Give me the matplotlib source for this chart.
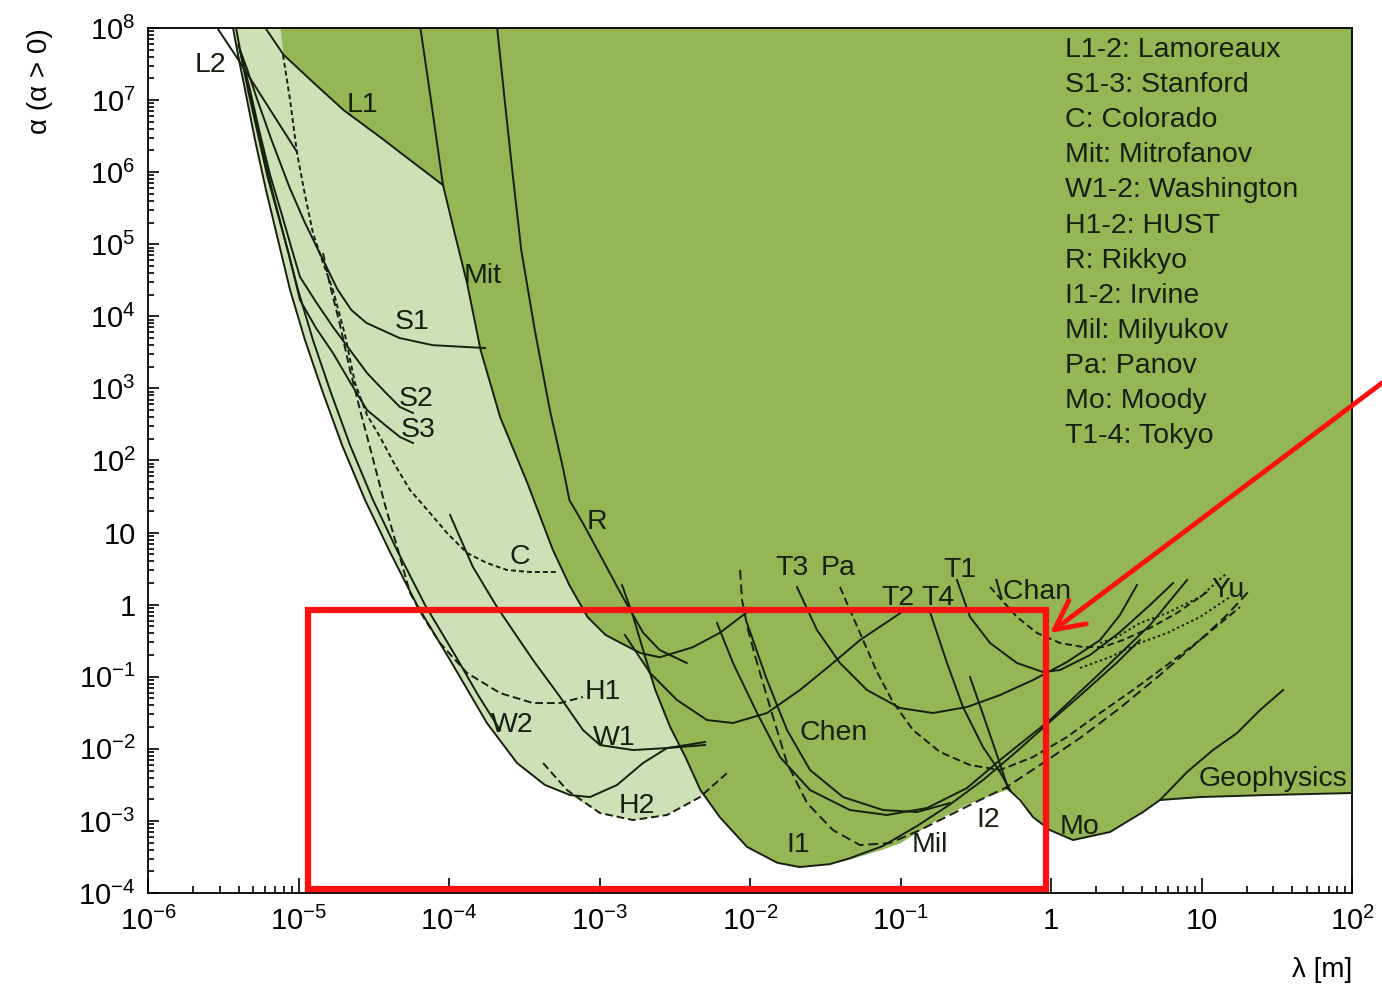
import numpy as np
import matplotlib.pyplot as plt
from matplotlib.patches import Rectangle, FancyArrowPatch
from matplotlib.ticker import FixedLocator, NullFormatter, FuncFormatter

plt.rcParams['font.family'] = ['Liberation Sans', 'DejaVu Sans']
plt.rcParams['mathtext.fontset'] = 'custom'
plt.rcParams['mathtext.rm'] = 'Liberation Sans'
plt.rcParams['mathtext.it'] = 'Liberation Sans:italic'
plt.rcParams['mathtext.bf'] = 'Liberation Sans:bold'

# every curve is stored as log10(lambda / m), log10(alpha)

excl_x = [-5.12, -5.10, -4.90, -4.70, -4.46, -4.26, -4.04, -3.96, -3.88, -3.79, -3.66, -3.48, -3.31,
          -3.20, -3.08, -2.96, -2.86, -2.73, -2.63, -2.53, -2.43, -2.33, -2.20, -2.02, -1.82, -1.67,
          -1.47, -1.34, -1.12, -1.00, -0.78, -0.56, -0.39, -0.29, -0.21, -0.12, -0.01, 0.15, 0.39,
          0.61, 0.72, 0.99, 1.43, 2.00, 2.00]
excl_y = [8.00, 7.63, 7.24, 6.86, 6.49, 6.17, 5.82, 5.13, 4.46, 3.53, 2.60, 1.69, 0.76,
          0.27, -0.17, -0.42, -0.53, -0.67, -1.18, -1.70, -2.11, -2.57, -2.95, -3.36, -3.58, -3.64,
          -3.60, -3.54, -3.40, -3.31, -3.02, -2.78, -2.64, -2.57, -2.67, -2.95, -3.13, -3.27, -3.15,
          -2.88, -2.71, -2.67, -2.64, -2.61, 8.00]

# region excluded before (light green), left / lower edge
prev_x = [-5.435, -5.402, -5.355, -5.289, -5.216, -5.136, -5.056, -4.957, -4.844, -4.711, -4.558,
          -4.392, -4.213, -3.993, -3.748, -3.548, -3.362, -3.196, -2.997, -2.777, -2.551, -2.332, 2.00]
prev_y = [8.00, 7.625, 7.140, 6.446, 5.752, 5.059, 4.365, 3.671, 2.978, 2.215, 1.452,
          0.730, -0.005, -0.768, -1.642, -2.197, -2.502, -2.641, -2.891, -2.988, -2.918, -2.669, 8.00]

# solid curves
L1_x = [-5.22, -5.10, -4.90, -4.70, -4.46, -4.26, -4.04]
L1_y = [8.00, 7.63, 7.24, 6.86, 6.49, 6.17, 5.82]
L2_x = [-5.54, -5.40, -5.01]
L2_y = [8.00, 7.56, 6.28]
mit_x = [-4.19, -4.12, -4.04, -3.96, -3.88, -3.79, -3.66, -3.48, -3.31, -3.20, -3.08, -2.96, -2.86,
         -2.73, -2.60, -2.38, -2.20, -2.03]
mit_y = [8.00, 7.00, 5.82, 5.13, 4.46, 3.53, 2.60, 1.69, 0.76, 0.27, -0.17, -0.42, -0.53,
         -0.67, -0.73, -0.59, -0.39, -0.12]
R_x = [-3.68, -3.63, -3.58, -3.52, -3.43, -3.33, -3.24, -3.20, -3.11, -3.04, -2.86, -2.71, -2.60, -2.42]
R_y = [8.00, 7.00, 6.03, 4.92, 3.81, 2.70, 1.87, 1.45, 1.13, 0.86, 0.16, -0.39, -0.63, -0.81]
W2_x = [-5.435, -5.402, -5.355, -5.289, -5.216, -5.136, -5.056, -4.957, -4.844, -4.711, -4.558,
        -4.392, -4.213, -3.993, -3.748, -3.548, -3.362, -3.196, -3.063, -2.884, -2.711, -2.551, -2.299]
W2_y = [8.00, 7.625, 7.140, 6.446, 5.752, 5.059, 4.365, 3.671, 2.978, 2.215, 1.452,
        0.730, -0.005, -0.768, -1.642, -2.197, -2.502, -2.641, -2.669, -2.502, -2.197, -1.989, -1.906]
B_x = [-5.415, -5.382, -5.329, -5.256, -5.176, -5.090, -5.003, -4.904, -4.791, -4.658, -4.505,
       -4.346, -4.159, -3.960, -3.807, -3.661]
B_y = [8.00, 7.625, 7.140, 6.446, 5.752, 5.059, 4.365, 3.671, 2.978, 2.215, 1.452,
       0.758, -0.005, -0.699, -1.254, -1.739]
S1_x = [-5.40, -5.34, -5.28, -5.18, -5.06, -4.96, -4.86, -4.74, -4.65, -4.55, -4.33, -4.11, -3.76]
S1_y = [7.76, 7.42, 7.04, 6.45, 5.79, 5.31, 4.88, 4.37, 4.09, 3.91, 3.70, 3.60, 3.56]
S2_x = [-5.389, -5.322, -5.262, -5.189, -5.110, -5.043, -4.990, -4.884, -4.771, -4.658, -4.545,
        -4.425, -4.326, -4.239]
S2_y = [7.695, 7.140, 6.585, 5.961, 5.406, 4.920, 4.546, 4.199, 3.852, 3.533, 3.214, 2.950, 2.742, 2.659]
S3_x = [-5.389, -5.336, -5.276, -5.209, -5.136, -5.063, -4.990, -4.884, -4.771, -4.658, -4.545,
        -4.425, -4.326, -4.239]
S3_y = [7.695, 7.140, 6.585, 5.961, 5.406, 4.851, 4.226, 3.838, 3.491, 3.089, 2.700, 2.492, 2.326, 2.242]
W1_x = [-3.993, -3.841, -3.681, -3.442, -3.262, -3.110, -2.997, -2.777, -2.551, -2.299]
W1_y = [1.244, 0.522, -0.033, -0.768, -1.281, -1.739, -1.947, -2.017, -1.989, -1.947]
I1_x = [-2.85, -2.78, -2.71, -2.63, -2.53, -2.43, -2.33, -2.20, -2.02, -1.82, -1.67, -1.47, -1.34,
        -1.12, -0.89, -0.67, -0.45, -0.23, -0.01, 0.21, 0.44, 0.59]
I1_y = [0.27, -0.14, -0.63, -1.18, -1.70, -2.11, -2.57, -2.95, -3.36, -3.58, -3.64, -3.60, -3.52,
        -3.35, -3.07, -2.77, -2.43, -2.04, -1.63, -1.23, -0.80, -0.49]
T1_x = [-0.625, -0.538, -0.405, -0.226, -0.053, 0.060, 0.259, 0.458, 0.658, 0.811]
T1_y = [0.342, -0.171, -0.532, -0.810, -0.935, -0.907, -0.699, -0.380, -0.005, 0.300]
T2_x = [-2.831, -2.664, -2.485, -2.286, -2.113, -1.887, -1.668, -1.449, -1.269, -0.970]
T2_y = [-0.421, -0.948, -1.323, -1.600, -1.642, -1.503, -1.184, -0.810, -0.491, -0.074]
T3_x = [-1.688, -1.555, -1.402, -1.223, -1.003, -0.784, -0.558, -0.339, -0.120, 0.106, 0.326, 0.458, 0.571]
T3_y = [0.245, -0.352, -0.810, -1.184, -1.434, -1.503, -1.420, -1.254, -1.046, -0.796, -0.491, -0.144, 0.272]
T4_x = [-0.804, -0.691, -0.585, -0.452, -0.339, -0.272]
T4_y = [-0.102, -0.810, -1.420, -1.975, -2.322, -2.572]
I2_x = [-0.538, -0.439, -0.359, -0.292]
I2_y = [-1.004, -1.600, -2.086, -2.502]
mo_x = [-0.292, -0.206, -0.120, -0.007, 0.146, 0.392, 0.611, 0.724, 0.904, 1.076, 1.236, 1.389, 1.542]
mo_y = [-2.544, -2.710, -2.946, -3.127, -3.265, -3.154, -2.877, -2.710, -2.322, -2.017, -1.781, -1.462, -1.184]
geo_x = [0.724, 0.990, 1.435, 2.00]
geo_y = [-2.710, -2.669, -2.641, -2.613]
chen1_x = [-2.219, -2.113, -1.953, -1.801, -1.601, -1.336, -1.090, -0.824, -0.558, -0.339, -0.007,
           0.326, 0.658, 0.904]
chen1_y = [-0.255, -0.810, -1.503, -2.114, -2.572, -2.849, -2.918, -2.821, -2.544, -2.155, -1.600,
           -0.948, -0.282, 0.342]
chen2_x = [-2.020, -1.887, -1.754, -1.601, -1.382, -1.116, -0.890, -0.671]
chen2_y = [-0.255, -1.046, -1.739, -2.294, -2.669, -2.849, -2.877, -2.752]

# dashed / dotted curves
C_x = [-5.103, -5.056, -5.010, -4.957, -4.904, -4.844, -4.771, -4.691, -4.625, -4.545, -4.458,
       -4.359, -4.259, -4.126, -4.013, -3.880, -3.748, -3.615, -3.462, -3.282]
C_y = [7.625, 7.001, 6.266, 5.683, 5.156, 4.781, 4.365, 3.741, 3.075, 2.631, 2.326,
       1.937, 1.590, 1.271, 0.994, 0.716, 0.578, 0.481, 0.453, 0.453]
H1_x = [-4.837, -4.791, -4.724, -4.658, -4.591, -4.512, -4.425, -4.339, -4.259, -4.159, -4.060,
        -3.880, -3.661, -3.442, -3.262, -3.110]
H1_y = [4.878, 4.435, 3.880, 3.255, 2.700, 2.076, 1.382, 0.758, 0.161, -0.213, -0.532,
        -0.948, -1.226, -1.365, -1.365, -1.281]
H2_x = [-3.375, -3.216, -2.997, -2.777, -2.551, -2.332, -2.153]
H2_y = [-2.197, -2.572, -2.891, -2.988, -2.918, -2.669, -2.336]
pa_x = [-1.402, -1.336, -1.249, -1.156, -1.050, -0.917, -0.738, -0.538, -0.339, -0.120, 0.106,
        0.326, 0.545, 0.771, 0.990, 1.256]
pa_y = [0.245, -0.074, -0.491, -0.935, -1.351, -1.739, -2.044, -2.225, -2.294, -2.114, -1.836,
        -1.503, -1.184, -0.837, -0.491, -0.033]
mil_x = [-2.066, -2.053, -2.013, -1.953, -1.847, -1.754, -1.621, -1.449, -1.269, -1.070, -0.870,
         -0.671, -0.472, -0.306, -0.073, 0.193, 0.458, 0.724, 0.990, 1.169, 1.322]
mil_y = [0.481, 0.064, -0.352, -0.810, -1.559, -2.197, -2.752, -3.127, -3.335, -3.307, -3.127,
         -2.918, -2.710, -2.544, -2.225, -1.850, -1.434, -0.976, -0.491, -0.144, 0.203]
chan_x = [-0.405, -0.226, -0.093, 0.060, 0.213, 0.346, 0.478, 0.658, 0.837, 1.056]
chan_y = [0.245, -0.171, -0.393, -0.532, -0.588, -0.588, -0.491, -0.324, -0.116, 0.203]
yu1_x = [0.326, 0.439, 0.591, 0.771, 0.990, 1.169]
yu1_y = [-0.532, -0.449, -0.255, -0.116, 0.106, 0.439]
yu2_x = [0.193, 0.392, 0.591, 0.771, 0.990, 1.189]
yu2_y = [-0.879, -0.726, -0.532, -0.393, -0.171, 0.106]

# curve labels
lab_text = ['L2', 'L1', 'Mit', 'S1', 'S2', 'S3', 'R', 'C', 'H1', 'W2', 'W1', 'H2', 'Chen', 'T3', 'Pa',
            'T1', 'T2', 'T4', '\\Chan', 'Yu', 'I1', 'Mil', 'I2', 'Mo', 'Geophysics']
lab_x = [-5.588, -4.578, -3.774, -4.246, -4.219, -4.206, -3.017, -3.528, -2.977, -3.581, -2.904,
         -2.751, -1.442, -1.721, -1.415, -0.605, -1.017, -0.751, -0.120, 1.176, -1.681, -0.804,
         -0.419, 0.193, 1.475]
lab_y = [7.487, 6.932, 4.560, 3.921, 2.853, 2.423, 1.147, 0.661, -1.212, -1.670, -1.850, -2.793,
         -1.781, 0.508, 0.508, 0.481, 0.092, 0.092, 0.175, 0.203, -3.335, -3.335, -2.988, -3.085,
         -2.419]

legend_lines = ['L1-2: Lamoreaux', 'S1-3: Stanford', 'C: Colorado', 'Mit: Mitrofanov',
                'W1-2: Washington', 'H1-2: HUST', 'R: Rikkyo', 'I1-2: Irvine', 'Mil: Milyukov',
                'Pa: Panov', 'Mo: Moody', 'T1-4: Tokyo']

# axis decades
x_decades = np.arange(-6, 3)
y_decades = np.arange(-4, 9)

# highlighted box and arrow (log10 units)
box_x = [-4.94, -0.03]
box_y = [-3.95, -0.07]
arrow_tail = [2.199, 3.075]
arrow_head = [-0.007, -0.393]

DARK = '#94b655'
LIGHT = '#cee0b5'
INK = '#16200e'


def P(lx, ly):
    return 10.0 ** np.asarray(lx), 10.0 ** np.asarray(ly)


def minors(decades):
    return [m * 10.0 ** d for d in decades[:-1] for m in range(2, 10)]


fig = plt.figure(figsize=(13.82, 9.92), dpi=100)
ax = fig.add_axes([0.1071, 0.0998, 0.8712, 0.8720])
ax.set_xscale('log')
ax.set_yscale('log')

ax.fill(*P(prev_x, prev_y), color=LIGHT, lw=0, zorder=0)
ax.fill(*P(excl_x, excl_y), color=DARK, lw=0, zorder=1)

solid = [(L1_x, L1_y), (L2_x, L2_y), (mit_x, mit_y), (R_x, R_y), (W2_x, W2_y), (B_x, B_y),
         (S1_x, S1_y), (S2_x, S2_y), (S3_x, S3_y), (W1_x, W1_y), (I1_x, I1_y), (T1_x, T1_y),
         (T2_x, T2_y), (T3_x, T3_y), (T4_x, T4_y), (I2_x, I2_y), (mo_x, mo_y), (geo_x, geo_y),
         (chen1_x, chen1_y), (chen2_x, chen2_y)]
for cx, cy in solid:
    ax.plot(*P(cx, cy), color=INK, lw=1.4, zorder=3)

dashed = [(C_x, C_y, (0, (2.5, 1.6))), (H1_x, H1_y, (0, (4, 2))), (H2_x, H2_y, (0, (4, 2))),
          (pa_x, pa_y, (0, (4, 2))), (mil_x, mil_y, (0, (5, 2.5))), (chan_x, chan_y, (0, (3.5, 2))),
          (yu1_x, yu1_y, (0, (1.2, 1.5))), (yu2_x, yu2_y, (0, (1.2, 1.5)))]
for cx, cy, ls in dashed:
    ax.plot(*P(cx, cy), color=INK, lw=1.4, ls=ls, zorder=3)

for t, x, y in zip(lab_text, lab_x, lab_y):
    ax.text(10 ** x, 10 ** y, t, fontsize=20.5, color=INK, ha='center', va='center', zorder=4)

for i, line in enumerate(legend_lines):
    ax.text(0.7616, 0.9746 - i * 0.0406, line, transform=ax.transAxes, fontsize=20.5,
            color=INK, ha='left', va='center', zorder=4)

ax.set_xlim(1e-6, 1e2)
ax.set_ylim(1e-4, 1e8)


def log_fmt(v, pos):
    e = int(round(np.log10(v)))
    if e == 0:
        return '1'
    if e == 1:
        return '10'
    return r'$10^{%d}$' % e


for axis, dec in ((ax.xaxis, x_decades), (ax.yaxis, y_decades)):
    axis.set_major_locator(FixedLocator(10.0 ** dec))
    axis.set_minor_locator(FixedLocator(minors(dec)))
    axis.set_major_formatter(FuncFormatter(log_fmt))
    axis.set_minor_formatter(NullFormatter())

ax.tick_params(which='both', direction='in', top=False, right=False, width=1.2, colors='black')
ax.tick_params(axis='x', which='major', length=11, pad=10, labelsize=21)
ax.tick_params(axis='x', which='minor', length=5)
ax.tick_params(axis='y', which='major', length=8, pad=9, labelsize=21)
ax.tick_params(axis='y', which='minor', length=4.5)
for sp in ax.spines.values():
    sp.set_linewidth(1.3)

ax.text(-0.0897, 1.0, r'α (α > 0)', transform=ax.transAxes, rotation=90, fontsize=20,
        ha='center', va='top')
ax.text(1.0, -0.089, r'λ [m]', transform=ax.transAxes, fontsize=20, ha='right', va='center')

bx, by = P(box_x, box_y)
ax.add_patch(Rectangle((bx[0], by[0]), bx[1] - bx[0], by[1] - by[0], fill=False,
                       ec='#ff1010', lw=4.5, zorder=6, clip_on=False))
arrow = FancyArrowPatch(tuple(10.0 ** np.array(arrow_tail)), tuple(10.0 ** np.array(arrow_head)),
                        arrowstyle='->,head_length=0.7,head_width=0.35', color='#ff1010',
                        lw=3.5, mutation_scale=30, shrinkA=0, shrinkB=0, zorder=7, clip_on=False)
ax.add_patch(arrow)

fig.savefig('out.png', dpi=100)
